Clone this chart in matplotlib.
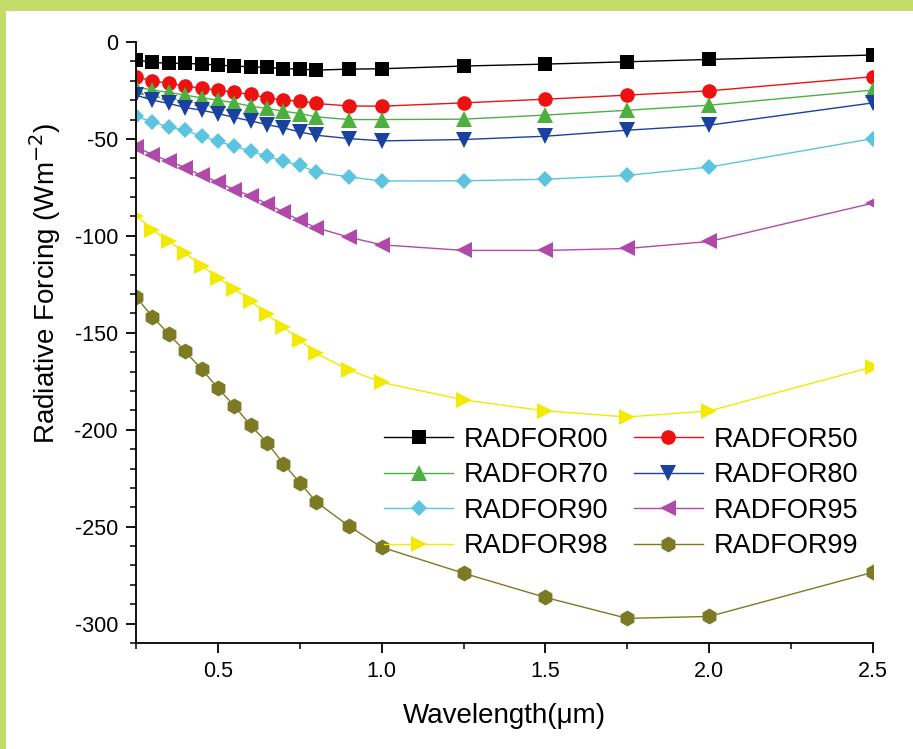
import matplotlib
matplotlib.use('Agg')
import matplotlib.pyplot as plt
from matplotlib.patches import Rectangle
from matplotlib.ticker import MultipleLocator, FormatStrFormatter

plt.rcParams.update({
    'font.family': ['Liberation Sans', 'DejaVu Sans'],
    'axes.unicode_minus': False,
})

# wavelength (um) and radiative forcing (W m-2) per humidity case
wavelength = [0.25, 0.30, 0.35, 0.40, 0.45, 0.50, 0.55, 0.60, 0.65, 0.70,
              0.75, 0.80, 0.90, 1.00, 1.25, 1.50, 1.75, 2.00, 2.50]
radfor00 = [-9.3, -10.5, -11.0, -11.0, -11.4, -11.9, -12.4, -12.8, -13.1, -13.8,
            -13.9, -14.5, -14.0, -13.8, -12.4, -11.4, -10.2, -9.0, -6.7]
radfor50 = [-17.9, -20.0, -21.4, -22.6, -23.9, -24.8, -26.0, -27.0, -28.8, -30.0,
            -30.5, -31.7, -33.0, -33.1, -31.4, -29.5, -27.4, -25.2, -17.9]
radfor70 = [-23.1, -24.8, -26.0, -27.4, -28.8, -30.0, -31.4, -33.1, -34.3, -35.7,
            -36.9, -38.6, -40.0, -40.0, -39.8, -37.7, -35.2, -32.6, -24.8]
radfor80 = [-27.4, -30.0, -31.7, -33.8, -35.2, -36.9, -38.9, -40.7, -42.6, -44.3,
            -46.4, -48.1, -49.8, -51.0, -50.3, -48.6, -45.5, -42.9, -31.4]
radfor90 = [-38.3, -41.2, -43.8, -45.5, -48.6, -51.2, -53.8, -56.2, -58.9, -61.5,
            -63.6, -67.1, -69.6, -71.7, -71.6, -70.8, -68.8, -64.5, -49.8]
radfor95 = [-54.1, -58.1, -61.4, -64.8, -68.8, -72.2, -76.2, -79.4, -83.4, -87.7,
            -92.0, -95.8, -100.7, -104.6, -107.5, -107.5, -106.5, -102.9, -83.1]
radfor98 = [-89.5, -96.9, -102.7, -108.9, -115.3, -121.7, -127.4, -133.4, -140.5, -147.0,
            -153.7, -160.6, -169.1, -175.6, -184.6, -190.3, -193.4, -190.3, -167.5]
radfor99 = [-131.5, -141.7, -150.6, -159.6, -168.7, -178.5, -187.7, -197.7, -206.7, -217.5,
            -227.3, -237.2, -249.7, -260.6, -274.0, -286.5, -297.3, -296.3, -273.5]

series = [
    ('RADFOR00', radfor00, '#000000', 's', 10),
    ('RADFOR50', radfor50, '#ee1111', 'o', 10.5),
    ('RADFOR70', radfor70, '#4cb040', '^', 11.5),
    ('RADFOR80', radfor80, '#1a40a0', 'v', 11.5),
    ('RADFOR90', radfor90, '#5cc4df', 'D', 8.5),
    ('RADFOR95', radfor95, '#b04aaa', '<', 11.5),
    ('RADFOR98', radfor98, '#f2ea00', '>', 11.5),
    ('RADFOR99', radfor99, '#7c7a22', 'h', 11.5),
]

fig = plt.figure(figsize=(9.13, 7.49), dpi=100, facecolor='#c4dc68')
# white panel inside the green frame
fig.patches.append(Rectangle((6 / 913, 0), 1, 1 - 11 / 749, transform=fig.transFigure,
                             facecolor='white', edgecolor='none', zorder=-10))

ax = fig.add_axes([136 / 913, 1 - 643 / 749, (873 - 136) / 913, (643 - 42) / 749])
ax.set_facecolor('none')

handles = {}
for name, vals, color, marker, ms in series:
    line, = ax.plot(wavelength, vals, color=color, lw=1.0, marker=marker, ms=ms,
                    mec=color, mfc=color, mew=0, label=name)
    handles[name] = line

ax.set_xlim(0.25, 2.5)
ax.set_ylim(-310, 0)
ax.xaxis.set_major_locator(MultipleLocator(0.5))
ax.xaxis.set_minor_locator(MultipleLocator(0.25))
ax.xaxis.set_major_formatter(FormatStrFormatter('%.1f'))
ax.yaxis.set_major_locator(MultipleLocator(50))
ax.yaxis.set_minor_locator(MultipleLocator(10))

for s in ['top', 'right']:
    ax.spines[s].set_visible(False)
for s in ['left', 'bottom']:
    ax.spines[s].set_linewidth(1.3)

ax.tick_params(which='major', direction='out', length=7, width=1.3, labelsize=15.5, pad=6)
ax.tick_params(which='minor', direction='out', length=4, width=1.1)

ax.set_xlabel('Wavelength(\u03bcm)', fontsize=20, va='center')
ax.xaxis.set_label_coords(0.5, -0.121)
ax.set_ylabel('Radiative Forcing (Wm$^{-2}$)', fontsize=20, va='center')
ax.yaxis.set_label_coords(-0.124, 0.598)

# row-major order in a 2-column legend
order = ['RADFOR00', 'RADFOR70', 'RADFOR90', 'RADFOR98',
         'RADFOR50', 'RADFOR80', 'RADFOR95', 'RADFOR99']
ax.legend([handles[k] for k in order], order, ncol=2, frameon=False, fontsize=19.5,
          loc='center', bbox_to_anchor=(621 / 913, 1 - 493 / 749),
          bbox_transform=fig.transFigure,
          handlelength=2.55, handletextpad=0.38, columnspacing=0.95,
          labelspacing=0.35, borderpad=0)

fig.savefig('out.png', dpi=100, facecolor=fig.get_facecolor())
